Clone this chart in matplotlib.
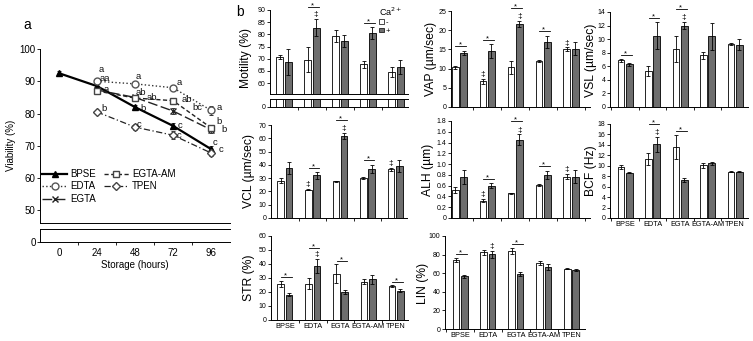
import numpy as np
import matplotlib
matplotlib.use("Agg")
import matplotlib.pyplot as plt
from matplotlib.patches import Patch
from matplotlib.ticker import FuncFormatter

plt.rcParams['font.family'] = ['Liberation Sans', 'DejaVu Sans']
plt.rcParams['axes.linewidth'] = 0.7

W, H = 753, 341
DPI = 100

# ---- panel a : viability during storage ----
hours = ["0", "24", "48", "72", "96"]
bpse = [92.5, 88.5, 82.0, 76.2, 69.0]
bpse_err = [0.8, 0.9, 0.8, 0.8, 1.0]
edta = [np.nan, 90.0, 89.2, 88.0, 81.0]
edta_err = [0, 0.7, 0.7, 0.8, 1.4]
egta = [np.nan, 87.3, 85.0, 80.8, 75.0]
egta_err = [0, 0.8, 0.8, 0.8, 1.0]
egtaam = [np.nan, 87.0, 84.8, 84.0, 75.6]
egtaam_err = [0, 0.9, 1.0, 0.9, 1.0]
tpen = [np.nan, 80.5, 75.8, 73.3, 67.8]
tpen_err = [0, 0.7, 0.9, 1.2, 1.0]

# post-hoc letters and where they sit (pixels right / down of the point)
bpse_let = ["", "a", "b", "c", "c"]
bpse_off = [(0, 0), (7, 3), (5, 1), (5, 0), (2, -7)]
edta_let = ["", "a", "a", "a", "a"]
edta_off = [(0, 0), (2, -12), (1, -7), (4, -5), (6, -3)]
egta_let = ["", "", "ab", "bc", "b"]
egta_off = [(0, 0), (0, 0), (12, 0.5), (19, -3), (10, 0)]
egtaam_let = ["", "aa", "ab", "ab", "b"]
egtaam_off = [(0, 0), (3, -12), (1, -6), (9, -1), (5, -6)]
tpen_let = ["", "b", "c", "c", "c"]
tpen_off = [(0, 0), (4, -3), (2, -3), (4, 0.7), (8, -3)]

# ---- panel b : sperm kinematics, Ca2+ - (white) / + (grey) ----
groups = ["BPSE", "EDTA", "EGTA", "EGTA-AM", "TPEN"]

mot_w = [70.7, 69.6, 79.4, 67.7, 64.6]
mot_we = [1.0, 5.2, 2.5, 1.5, 2.0]
mot_d = [68.7, 82.8, 77.2, 80.6, 66.6]
mot_de = [5.2, 3.6, 2.5, 2.6, 3.0]
mot_star = [0, 1, 0, 1, 0]
mot_dw = [0, 0, 0, 0, 0]
mot_dd = [0, 1, 0, 0, 0]

vap_w = [10.3, 6.7, 10.3, 11.9, 15.0]
vap_we = [0.3, 0.7, 1.6, 0.3, 0.5]
vap_d = [14.1, 14.5, 21.6, 17.0, 15.2]
vap_de = [0.6, 1.8, 0.7, 1.6, 1.6]
vap_star = [1, 1, 1, 1, 0]
vap_dw = [0, 1, 0, 0, 1]
vap_dd = [0, 0, 1, 0, 0]

vsl_w = [6.9, 5.3, 8.5, 7.6, 9.3]
vsl_we = [0.2, 0.7, 1.9, 0.5, 0.15]
vsl_d = [6.3, 10.5, 12.0, 10.4, 9.2]
vsl_de = [0.2, 2.0, 0.5, 2.0, 0.8]
vsl_star = [1, 1, 1, 0, 0]
vsl_dw = [0, 0, 0, 0, 0]
vsl_dd = [0, 0, 1, 0, 0]

vcl_w = [28.0, 21.2, 27.5, 30.0, 36.7]
vcl_we = [2.0, 0.5, 0.5, 0.5, 1.0]
vcl_d = [37.5, 32.0, 61.8, 37.2, 39.2]
vcl_de = [4.5, 2.5, 2.5, 3.0, 4.5]
vcl_star = [0, 1, 1, 1, 0]
vcl_dw = [0, 1, 0, 0, 1]
vcl_dd = [0, 0, 1, 0, 0]

alh_w = [0.52, 0.32, 0.46, 0.61, 0.77]
alh_we = [0.05, 0.03, 0.01, 0.02, 0.05]
alh_d = [0.76, 0.60, 1.45, 0.80, 0.77]
alh_de = [0.13, 0.05, 0.10, 0.08, 0.12]
alh_star = [0, 1, 1, 1, 0]
alh_dw = [0, 1, 0, 0, 1]
alh_dd = [0, 0, 1, 0, 0]

bcf_w = [9.75, 11.3, 13.6, 10.1, 8.9]
bcf_we = [0.4, 1.2, 2.3, 0.5, 0.1]
bcf_d = [8.7, 14.1, 7.2, 10.5, 8.9]
bcf_de = [0.1, 1.5, 0.4, 0.3, 0.1]
bcf_star = [0, 1, 1, 0, 0]
bcf_dw = [0, 0, 0, 0, 0]
bcf_dd = [0, 1, 0, 0, 0]

str_w = [25.8, 25.8, 33.2, 27.5, 24.2]
str_we = [2.0, 4.0, 6.5, 2.0, 0.5]
str_d = [18.2, 38.6, 20.1, 29.0, 21.0]
str_de = [1.0, 5.0, 1.5, 3.5, 1.0]
str_star = [1, 1, 1, 0, 1]
str_dw = [0, 0, 0, 0, 0]
str_dd = [0, 1, 0, 0, 0]

lin_w = [74.2, 82.3, 83.7, 70.7, 65.0]
lin_we = [2.0, 2.5, 3.5, 2.0, 1.0]
lin_d = [56.5, 80.2, 59.0, 66.8, 63.2]
lin_de = [1.5, 3.5, 2.0, 3.0, 1.0]
lin_star = [1, 0, 1, 0, 0]
lin_dw = [0, 0, 0, 0, 0]
lin_dd = [0, 1, 0, 0, 0]

DARK = "#6e6e6e"


def box(x0, x1, y0, y1):
    return [x0 / W, 1 - y1 / H, (x1 - x0) / W, (y1 - y0) / H]


def clean(ax, size=5):
    ax.spines["top"].set_visible(False)
    ax.spines["right"].set_visible(False)
    ax.tick_params(labelsize=size, length=2, width=0.6, pad=1.2)


def cat_ticks(ax, labels, size=5.3):
    ax.set_xticks(range(5))
    if labels:
        ax.set_xticklabels(labels, fontsize=size)
    else:
        ax.set_xticklabels([])
    ax.tick_params(axis="x", which="major", length=0, pad=2)
    lo, hi = ax.get_xlim()
    ax.set_xticks([b + 0.5 for b in range(-1, 5) if lo < b + 0.5 < hi], minor=True)
    ax.tick_params(axis="x", which="minor", length=2, width=0.6)


def bars(ax, w, we, d, de):
    x = np.arange(5)
    ek = dict(elinewidth=0.6, capsize=1.2, capthick=0.6, ecolor="black")
    ax.bar(x - 0.15, w, 0.24, yerr=we, color="white", edgecolor="black",
           linewidth=0.6, error_kw=ek)
    ax.bar(x + 0.15, d, 0.24, yerr=de, color=DARK, edgecolor="black",
           linewidth=0.6, error_kw=ek)


def marks(ax, w, we, d, de, star, dw, dd, rng):
    for i in range(5):
        tw = w[i] + we[i]
        td = d[i] + de[i]
        top = max(tw, td)
        if dw[i]:
            ax.text(i - 0.15, tw + 0.01 * rng, "\u2021", ha="center", va="bottom",
                    fontsize=6, clip_on=False)
            if tw >= td:
                top = tw + 0.09 * rng
        if dd[i]:
            ax.text(i + 0.15, td + 0.01 * rng, "\u2021", ha="center", va="bottom",
                    fontsize=6, clip_on=False)
            if td >= tw:
                top = td + 0.09 * rng
        if star[i]:
            ly = top + 0.045 * rng
            ax.plot([i - 0.14, i + 0.24], [ly, ly], color="black", lw=0.6,
                    clip_on=False)
            ax.text(i + 0.02, ly - 0.005 * rng, "*", ha="center", va="baseline",
                    fontsize=5.5, clip_on=False)


def ylab(ax, text, cx, cy, size=8.7):
    # place label centre at pixel (cx, cy)
    x0, y0, ww, hh = ax.get_position().bounds
    fx = (cx / W - x0) / ww
    fy = ((1 - cy / H) - y0) / hh
    ax.set_ylabel(text, fontsize=size, va="center")
    ax.yaxis.set_label_coords(fx, fy)


fig = plt.figure(figsize=(W / DPI, H / DPI), dpi=DPI)

# ================= panel a =================
axa = fig.add_axes(box(40, 230, 49, 223))
axa0 = fig.add_axes(box(40, 230, 229, 242))
for ax in (axa, axa0):
    clean(ax, 7)
    ax.set_xlim(-0.5, 4.5)
axa.set_ylim(46.1, 100)
axa.set_yticks(range(50, 101, 10))
axa.tick_params(axis="x", which="both", length=0, labelbottom=False)
axa0.set_ylim(0, 4)
axa0.set_yticks([0])
axa0.spines["top"].set_visible(True)
cat_ticks(axa0, hours, 7)
axa0.tick_params(axis="x", which="major", pad=4)
axa0.set_xlabel("Storage (hours)", fontsize=7, labelpad=2)

xs = np.arange(5)
series = [
    ("BPSE", bpse, bpse_err, bpse_let, bpse_off,
     dict(color="black", lw=1.6, ls="-", marker="^", ms=5, mfc="black", mec="black")),
    ("EDTA", edta, edta_err, edta_let, edta_off,
     dict(color="#333333", lw=1.0, ls=":", marker="o", ms=5, mfc="white", mec="#555555")),
    ("EGTA", egta, egta_err, egta_let, egta_off,
     dict(color="#222222", lw=1.0, dashes=(7, 2.5), marker="x", ms=5, mec="#222222")),
    ("EGTA-AM", egtaam, egtaam_err, egtaam_let, egtaam_off,
     dict(color="#222222", lw=1.0, dashes=(3, 1.8), marker="s", ms=5, mfc="white", mec="#444444")),
    ("TPEN", tpen, tpen_err, tpen_let, tpen_off,
     dict(color="#222222", lw=0.9, dashes=(5, 2, 1, 2), marker="D", ms=3.8, mfc="white", mec="#444444")),
]
handles = []
for name, vals, errs, lets, offs, st in series:
    v = np.array(vals, dtype=float)
    e = np.array(errs, dtype=float)
    ok = ~np.isnan(v)
    axa.errorbar(xs[ok], v[ok], yerr=e[ok], fmt="none", ecolor="#333333",
                 elinewidth=0.7, capsize=1.5, capthick=0.7, zorder=2)
    ln, = axa.plot(xs[ok], v[ok], label=name, zorder=3, **st)
    handles.append(ln)
    for i in range(5):
        if lets[i]:
            dx, dy = offs[i]
            axa.annotate(lets[i], (i, v[i]), xytext=(dx * 72 / DPI, -dy * 72 / DPI),
                         textcoords="offset points", ha="left", va="center",
                         fontsize=6.8, color="#111111")

axa.legend(handles=handles, ncol=2, loc="upper left", bbox_to_anchor=(0.01, 0.31),
           frameon=False, fontsize=7, handlelength=2.6, handletextpad=0.3,
           columnspacing=0.8, labelspacing=0.25, borderpad=0, borderaxespad=0)
ylab(axa, "Viability (%)", 11, 145, 7)
fig.text(27 / W, 1 - 25 / H, "a", fontsize=10, ha="center", va="center")
fig.text(240 / W, 1 - 12 / H, "b", fontsize=10, ha="center", va="center")

# ================= panel b =================
fmt_alh = FuncFormatter(lambda v, p: "0" if abs(v) < 1e-9 else "%.1f" % v)

# motility, broken axis
axm = fig.add_axes(box(270, 408, 10, 94))
axm0 = fig.add_axes(box(270, 408, 99, 107))
for ax in (axm, axm0):
    clean(ax)
    ax.set_xlim(-0.5, 4.43)
    bars(ax, mot_w, mot_we, mot_d, mot_de)
axm.set_ylim(55.5, 90)
axm.set_yticks(range(60, 91, 5))
axm.tick_params(axis="x", which="both", length=0, labelbottom=False)
axm0.set_ylim(0, 3.3)
axm0.set_yticks([0])
axm0.spines["top"].set_visible(True)
cat_ticks(axm0, None)
marks(axm, mot_w, mot_we, mot_d, mot_de, mot_star, mot_dw, mot_dd, 34.5)
ylab(axm, "Motility (%)", 246, 58)
axm.legend(handles=[Patch(fc="white", ec="black", lw=0.5),
                    Patch(fc=DARK, ec="black", lw=0.5)],
           labels=["-", "+"], title="Ca$^{2+}$", alignment="left",
           loc="upper left", bbox_to_anchor=(0.79, 1.05), frameon=False,
           fontsize=5.5, title_fontsize=6.5, handlelength=0.6, handleheight=0.6,
           handletextpad=0.3, labelspacing=0.15, borderpad=0, borderaxespad=0)

panels = [
    ("VAP (\u00b5m/sec)", vap_w, vap_we, vap_d, vap_de, vap_star, vap_dw, vap_dd,
     (451, 590, 11, 107), (-0.3, 4.68), 25, np.arange(0, 26, 5), None, (431, 59), None),
    ("VSL (\u00b5m/sec)", vsl_w, vsl_we, vsl_d, vsl_de, vsl_star, vsl_dw, vsl_dd,
     (610, 748, 12, 107), (-0.55, 4.47), 14, np.arange(0, 15, 2), None, (591, 60), None),
    ("VCL (\u00b5m/sec)", vcl_w, vcl_we, vcl_d, vcl_de, vcl_star, vcl_dw, vcl_dd,
     (271, 407, 125, 218), (-0.5, 4.43), 70, np.arange(0, 71, 10), None, (249, 171), None),
    ("ALH (\u00b5m)", alh_w, alh_we, alh_d, alh_de, alh_star, alh_dw, alh_dd,
     (451, 590, 121, 218), (-0.3, 4.68), 1.8, np.linspace(0, 1.8, 10), None, (428, 170), fmt_alh),
    ("BCF (Hz)", bcf_w, bcf_we, bcf_d, bcf_de, bcf_star, bcf_dw, bcf_dd,
     (610, 748, 124, 218), (-0.55, 4.47), 18, np.arange(0, 19, 2), groups, (591, 171), None),
    ("STR (%)", str_w, str_we, str_d, str_de, str_star, str_dw, str_dd,
     (271, 408, 236, 320), (-0.5, 4.43), 60, np.arange(0, 61, 10), groups, (249, 278), None),
    ("LIN (%)", lin_w, lin_we, lin_d, lin_de, lin_star, lin_dw, lin_dd,
     (445, 585, 236, 329), (-0.54, 4.48), 100, np.arange(0, 101, 20), groups, (423, 283), None),
]

for (lab, w, we, d, de, st, dw, dd, bx, xl, ymax, yt, xlabs, lpos, fmt) in panels:
    ax = fig.add_axes(box(*bx))
    clean(ax)
    ax.set_xlim(*xl)
    ax.set_ylim(0, ymax)
    ax.set_yticks(yt)
    if fmt is not None:
        ax.yaxis.set_major_formatter(fmt)
    bars(ax, w, we, d, de)
    marks(ax, w, we, d, de, st, dw, dd, ymax)
    cat_ticks(ax, xlabs)
    ylab(ax, lab, lpos[0], lpos[1])

fig.savefig("out.png", dpi=DPI)
